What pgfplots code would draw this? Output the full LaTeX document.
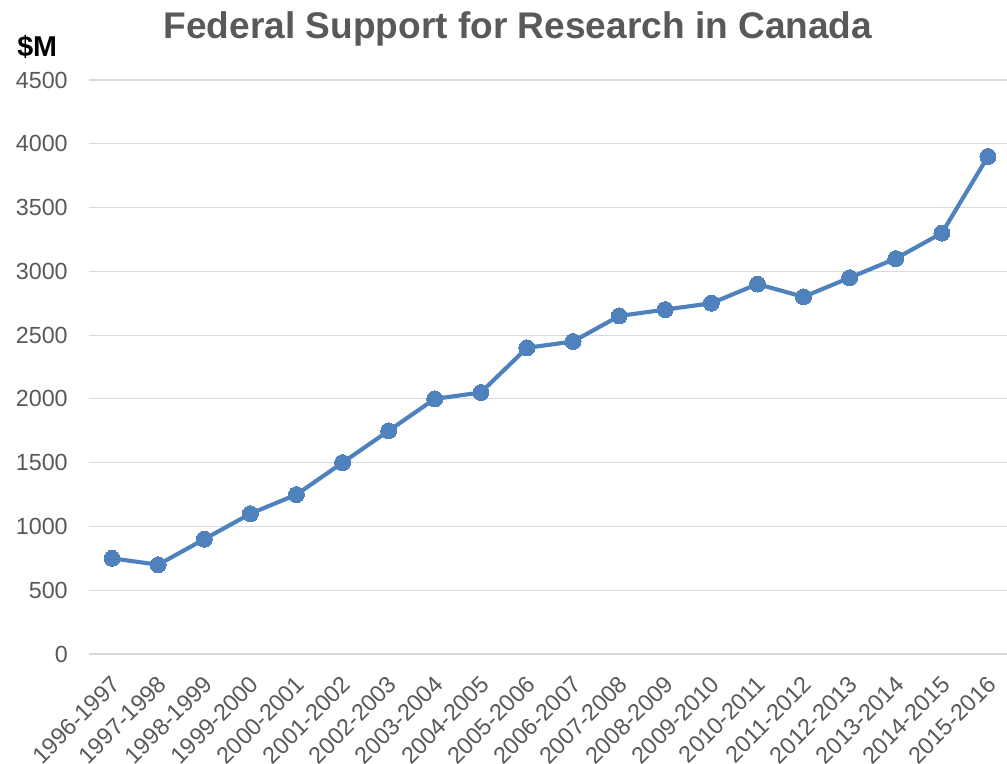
\documentclass[border=0pt]{standalone}
\usepackage{fontspec}
\setmainfont{Liberation Sans}
\usepackage{pgfplots}
\pgfplotsset{compat=1.18}
\definecolor{txtgray}{HTML}{595959}
\definecolor{gridgray}{HTML}{D9D9D9}
\definecolor{lineblue}{HTML}{4F81BD}

% one reference pixel = 0.75pt
\begin{document}
\begin{tikzpicture}
\begin{axis}[
    at={(0pt,0pt)}, anchor=south west,
    scale only axis,
    width=691.5pt, height=430.5pt,
    xmin=-0.5, xmax=19.5,
    ymin=0, ymax=4500,
    ytick distance=500,
    xtick={0,...,19},
    xticklabels={1996-1997,1997-1998,1998-1999,1999-2000,2000-2001,2001-2002,2002-2003,2003-2004,2004-2005,2005-2006,2006-2007,2007-2008,2008-2009,2009-2010,2010-2011,2011-2012,2012-2013,2013-2014,2014-2015,2015-2016},
    ymajorgrids=true,
    grid style={gridgray, line width=0.9pt},
    axis line style={draw=none},
    tick style={draw=none},
    /pgf/number format/assume math mode=true,
    /pgf/number format/1000 sep={},
    yticklabel style={font=\fontsize{17.5}{20}\selectfont, text=txtgray, inner sep=0pt, xshift=-15.75pt},
    % shifts first, so that they act before the rotation
    xticklabel style={font=\fontsize{17.6}{21}\selectfont, text=txtgray, inner sep=0pt, xshift=-1.5pt, yshift=-15pt, rotate=45, anchor=north east},
    clip=false,
]
\addplot[lineblue, line width=3.1pt, mark=*, mark size=6pt, mark options={fill=lineblue, draw=lineblue, line width=0pt}]
coordinates {
(0,750) (1,700) (2,900) (3,1100) (4,1250) (5,1500) (6,1750) (7,2000) (8,2050) (9,2400)
(10,2450) (11,2650) (12,2700) (13,2750) (14,2900) (15,2800) (16,2950) (17,3100) (18,3300) (19,3900)
};
\end{axis}
\node[anchor=base, font=\bfseries\fontsize{27.8}{33}\selectfont, text=txtgray, inner sep=0pt] at (321.75pt,461.5pt) {Federal Support for Research in Canada};
\node[anchor=base west, font=\bfseries\fontsize{21.5}{25}\selectfont, inner sep=0pt] at (-54pt,447.75pt) {\$M};
\pgfresetboundingbox
\path[use as bounding box] (-66.75pt,-82.5pt) rectangle (688.5pt,490.5pt);
\end{tikzpicture}
\end{document}
